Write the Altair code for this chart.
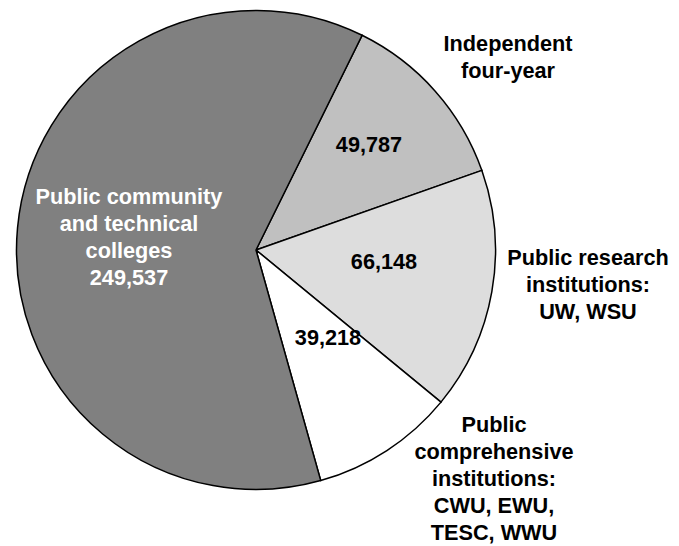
import math
import altair as alt
import pandas as pd

# ---- data ----
categories = [
    "Independent four-year",
    "Public research institutions: UW, WSU",
    "Public comprehensive institutions: CWU, EWU, TESC, WWU",
    "Public community and technical colleges",
]
enrollment = [49787, 66148, 39218, 249537]

# label texts
outer_labels = [
    "Independent\nfour-year",
    "Public research\ninstitutions:\nUW, WSU",
    "Public\ncomprehensive\ninstitutions:\nCWU, EWU,\nTESC, WWU",
    "Public community\nand technical\ncolleges\n249,537",
]
value_labels = ["49,787", "66,148", "39,218"]

# ---- layout / style (kept separate from the data) ----
slice_colors = ["#c0c0c0", "#dddddd", "#ffffff", "#808080"]
label_colors = ["#000000", "#000000", "#000000", "#ffffff"]
# view coordinates (page minus the 8px margin); y = first text line
outer_pos = [(500, 36), (580, 250), (486, 417), (121, 189)]
value_pos = [(361, 137), (376, 254), (320, 330)]
center = (248, 242)
radius = 239.5
start = math.radians(26.3)
FONT = "Liberation Sans"
FSIZE = 21.7

pie_df = pd.DataFrame({
    "category": categories,
    "enrollment": enrollment,
    "order": list(range(len(categories))),
})

lab_df = pd.DataFrame({
    "text": outer_labels,
    "px": [p[0] for p in outer_pos],
    "py": [p[1] for p in outer_pos],
    "color": label_colors,
})
val_df = pd.DataFrame({
    "text": value_labels,
    "px": [p[0] for p in value_pos],
    "py": [p[1] for p in value_pos],
})

pie = alt.Chart(pie_df).mark_arc(stroke="#000000", strokeWidth=1.5).encode(
    theta=alt.Theta("enrollment:Q", stack=True,
                    scale=alt.Scale(range=[start, start + 2 * math.pi])),
    order=alt.Order("order:Q"),
    color=alt.Color("category:N", sort=categories,
                    scale=alt.Scale(domain=categories, range=slice_colors),
                    legend=None),
    x=alt.value(center[0]),
    y=alt.value(center[1]),
    radius=alt.value(radius),
)

labels = alt.Chart(lab_df).mark_text(
    font=FONT, fontSize=FSIZE, fontWeight="bold", lineBreak="\n",
    lineHeight=27, align="center", baseline="middle",
).encode(
    x=alt.X("px:Q", scale=None),
    y=alt.Y("py:Q", scale=None),
    text="text:N",
    color=alt.Color("color:N", scale=None),
)

values = alt.Chart(val_df).mark_text(
    font=FONT, fontSize=FSIZE, fontWeight="bold", align="center", baseline="middle",
    color="#000000",
).encode(
    x=alt.X("px:Q", scale=None),
    y=alt.Y("py:Q", scale=None),
    text="text:N",
)

chart = alt.layer(pie, labels, values).properties(
    width=663, height=538,
    autosize=alt.AutoSizeParams(type="none"),
    padding=0,
).configure_view(stroke=None)

chart.save("out.html", embed_options={"renderer": "svg", "actions": False})
